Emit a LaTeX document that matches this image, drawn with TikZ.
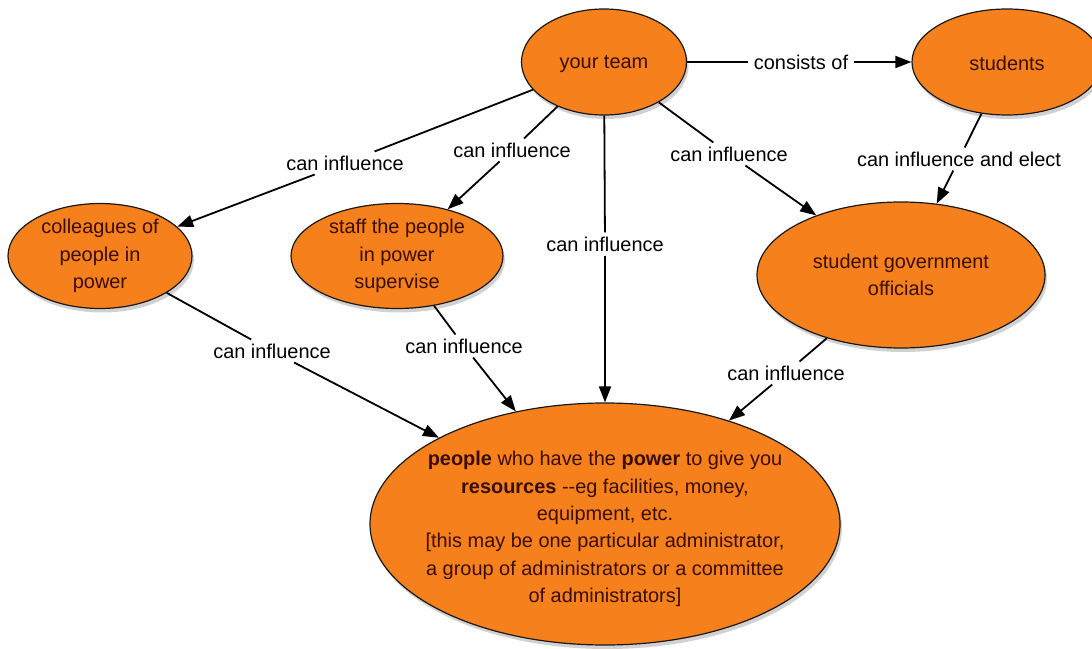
\documentclass[tikz,border=0pt]{standalone}
\usepackage{fontspec}
\setmainfont{Liberation Sans}
\usetikzlibrary{shapes.geometric,arrows.meta,shadows}
\definecolor{conc}{RGB}{246,128,28}
\definecolor{ctext}{RGB}{58,14,4}
\begin{document}
\begin{tikzpicture}[x=1bp,y=-1bp,
  concept/.style={ellipse, draw=black!90, line width=1.2bp, fill=conc, inner sep=0pt,
    drop shadow={fill=black, opacity=0.18, shadow xshift=2bp, shadow yshift=-4bp}},
  ctxt/.style={text=ctext, align=center, inner sep=0pt, font=\fontsize{20}{27.5}\selectfont},
  lbl/.style={fill=white, inner xsep=6bp, inner ysep=4bp, font=\fontsize{20}{24}\selectfont},
  link/.style={line width=1.8bp, black},
  arr/.style={link, -{Triangle[length=16bp,width=12bp]}}]
\useasboundingbox (0,0) rectangle (1092,649);

% concepts
\node[concept, minimum width=165bp, minimum height=106bp,
  label={[ctxt, yshift=-2bp]center:your team}] (yt) at (604,62) {};
\node[concept, minimum width=190bp, minimum height=106bp,
  label={[ctxt, yshift=-1bp]center:students}] (st) at (1007,62) {};
\node[concept, minimum width=184bp, minimum height=105bp,
  label={[ctxt]center:{colleagues of\\people in\\power}}] (col) at (100,256) {};
\node[concept, minimum width=212bp, minimum height=105bp,
  label={[ctxt]center:{staff the people\\in power\\supervise}}] (sf) at (397,256) {};
\node[concept, minimum width=288bp, minimum height=146bp,
  label={[ctxt]center:{student government\\officials}}] (sg) at (901,275) {};
\node[concept, minimum width=470bp, minimum height=242bp,
  label={[ctxt, yshift=-5bp]center:{\textbf{people} who have the \textbf{power} to give you\\
    \textbf{resources} -{}-eg facilities, money,\\equipment, etc.\\
    {[}this may be one particular administrator,\\
    a group of administrators or a committee\\of administrators]}}] (pp) at (605,524) {};

% linking phrases
\node[lbl] (lc) at (801,62) {consists of};
\node[lbl] (l1) at (345,163) {can influence};
\node[lbl] (l2) at (512,150) {can influence};
\node[lbl] (l3) at (605,244) {can influence};
\node[lbl] (l4) at (729,154) {can influence};
\node[lbl] (l5) at (959,159) {can influence and elect};
\node[lbl] (l6) at (272,351) {can influence};
\node[lbl] (l7) at (464,346) {can influence};
\node[lbl] (l8) at (786,373) {can influence};

% connectors
\draw[link] (yt) -- (lc); \draw[arr] (lc) -- (st);
\draw[link] (yt) -- (l1); \draw[arr] (l1) -- (col);
\draw[link] (yt) -- (l2); \draw[arr] (l2) -- (sf);
\draw[link] (yt) -- (l3); \draw[arr] (l3) -- (pp);
\draw[link] (yt) -- (l4); \draw[arr] (l4) -- (sg);
\draw[link] (st) -- (l5); \draw[arr] (l5) -- (sg);
\draw[link] (col) -- (l6); \draw[arr] (l6) -- (pp);
\draw[link] (sf) -- (l7); \draw[arr] (l7) -- (pp);
\draw[link] (sg) -- (l8); \draw[arr] (l8) -- (pp);
\end{tikzpicture}
\end{document}
